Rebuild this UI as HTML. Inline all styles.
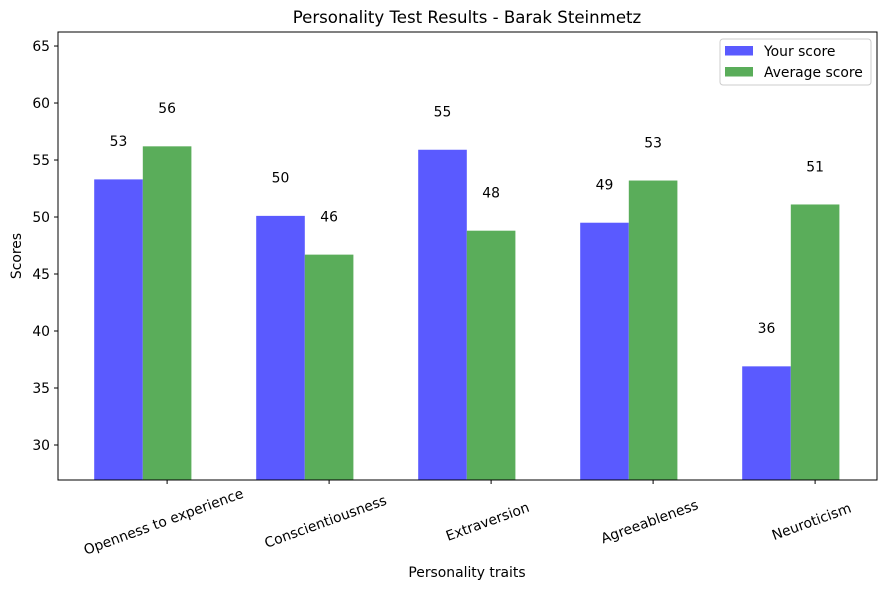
<!DOCTYPE html>
<html><head><meta charset="utf-8"><style>
body{margin:0;background:#fff}
svg{display:block;font-family:"DejaVu Sans","Liberation Sans",sans-serif}
</style></head><body>
<svg id="chart" width="890" height="590" viewBox="0 0 890 590" xmlns="http://www.w3.org/2000/svg">
<rect width="890" height="590" fill="#fff"/>
<text x="467" y="23" text-anchor="middle" font-size="16.6">Personality Test Results - Barak Steinmetz</text>
<g id="marks"></g>
<g id="axes"></g>
<rect x="58" y="32" width="819" height="448" fill="none" stroke="#000" stroke-width="1"/>
<text transform="translate(21,256) rotate(-90)" text-anchor="middle" font-size="13.9">Scores</text>
<text x="467" y="577" text-anchor="middle" font-size="13.9">Personality traits</text>
<g>
<rect x="720" y="39" width="151" height="46" rx="3" fill="#fff" stroke="#ccc"/>
<rect x="725" y="46" width="28" height="9.5" fill="#5a5aff"/>
<text x="764" y="56" font-size="13.9">Your score</text>
<rect x="725" y="67" width="28" height="9.5" fill="#5aad5a"/>
<text x="764" y="77" font-size="13.9">Average score</text>
</g>
</svg>
<script>
const categories = ["Openness to experience","Conscientiousness","Extraversion","Agreeableness","Neuroticism"];
const yourScores = [53.3, 50.1, 55.9, 49.5, 36.9];
const avgScores = [56.2, 46.7, 48.8, 53.2, 51.1];
const yTicks = [30,35,40,45,50,55,60,65];
const NS="http://www.w3.org/2000/svg";
const L=58,R=877,T=32,B=480;
const yMin=26.93,yMax=66.23;
function y(v){return B-(v-yMin)/(yMax-yMin)*(B-T);}
const step=162, x0=118.5, bw=48.6;
function xc(i,s){return x0+i*step+s*bw;}
function mk(tag,attrs,parent){const e=document.createElementNS(NS,tag);for(const k in attrs)e.setAttribute(k,attrs[k]);parent.appendChild(e);return e;}
const marks=document.getElementById('marks'),axes=document.getElementById('axes');
categories.forEach((c,i)=>{
  [[yourScores,'#5a5aff',0,'your'],[avgScores,'#5aad5a',1,'average']].forEach(([arr,col,s,nm])=>{
    const v=arr[i],cx=xc(i,s);
    const r=mk('rect',{x:cx-bw/2,y:y(v),width:bw,height:B-y(v),fill:col},marks);
    
    
    const t=mk('text',{x:cx,y:y(v+3)+1,'text-anchor':'middle','font-size':'13.9'},marks);
    t.textContent=Math.floor(v);
    
    
  });
  const tx=xc(i,1);
  const tk=mk('line',{x1:tx,x2:tx,y1:B,y2:B+4,stroke:'#000'},axes);
  
  
  const lb=mk('text',{transform:`translate(${tx-2},${B+46}) rotate(-20)`,'text-anchor':'middle','font-size':'13.9'},axes);
  lb.textContent=c;
  
  
});
yTicks.forEach(v=>{
  const tk=mk('line',{x1:L-4,x2:L,y1:y(v),y2:y(v),stroke:'#000'},axes);
  
  
  const t=mk('text',{x:L-8,y:y(v)+5,'text-anchor':'end','font-size':'13.9'},axes);
  t.textContent=v;
  
  
});
</script>
</body></html>
